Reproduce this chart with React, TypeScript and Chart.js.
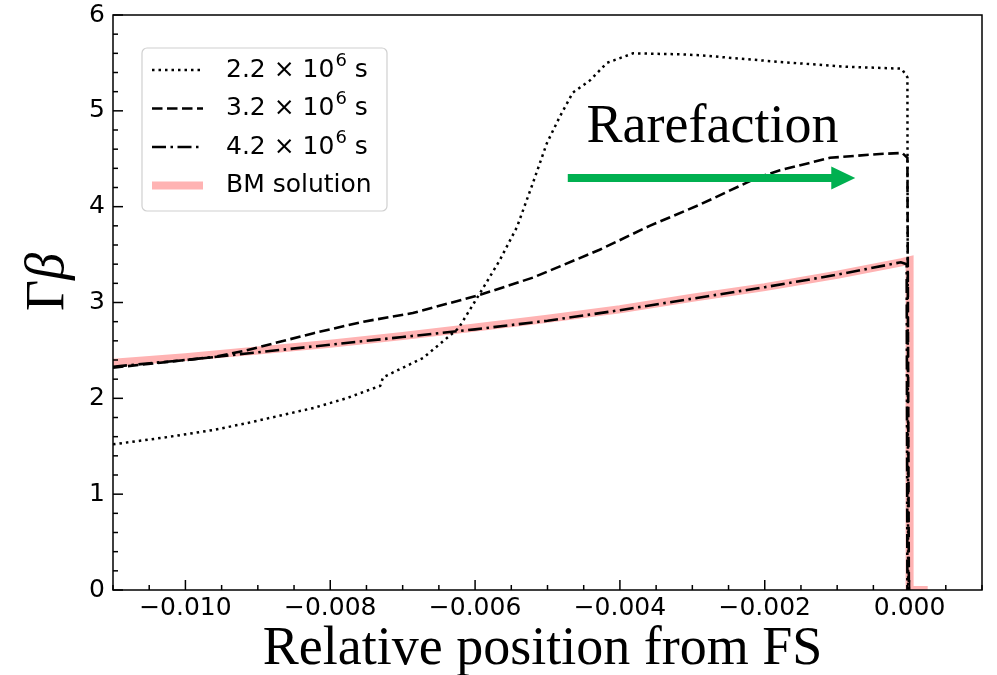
import React, { useEffect, useRef } from "react";
import { Chart, registerables } from "chart.js";
Chart.register(...registerables);

// ---------- data ----------
const X_MIN = -0.011;
const X_MAX = 0.001;
const Y_MIN = 0;
const Y_MAX = 6;
const X_TICKS = [-0.01, -0.008, -0.006, -0.004, -0.002, 0.0];
const X_TICK_LABELS = ["\u22120.010", "\u22120.008", "\u22120.006", "\u22120.004", "\u22120.002", "0.000"];
const Y_TICKS = [0, 1, 2, 3, 4, 5, 6];
const Y_TICK_LABELS = ["0", "1", "2", "3", "4", "5", "6"];
const X_MINOR_STEP = 0.0005;
const Y_MINOR_STEP = 0.2;

const X_T22 = [-0.011, -0.0103, -0.00961, -0.00916, -0.00869, -0.00823, -0.00778, -0.00731, -0.00727, -0.00686, -0.00672, -0.00623, -0.00593, -0.00566, -0.00542, -0.0052, -0.00501, -0.00483, -0.00465, -0.00441, -0.00418, -0.00382, -0.00317, -0.0029, -0.00179, -0.00087, -0.00011, -0.00003, -0.00002];
const Y_T22 = [1.52, 1.59, 1.67, 1.74, 1.82, 1.9, 2.0, 2.13, 2.22, 2.37, 2.42, 2.73, 3.1, 3.44, 3.79, 4.25, 4.66, 4.94, 5.19, 5.32, 5.5, 5.6, 5.59, 5.58, 5.51, 5.46, 5.44, 5.35, 0];

const X_T32 = [-0.011, -0.00961, -0.00916, -0.00823, -0.00754, -0.00686, -0.00593, -0.0052, -0.00428, -0.00359, -0.0029, -0.00211, -0.00179, -0.0011, -0.00041, -0.0001, -0.00003, -0.00001];
const Y_T32 = [2.32, 2.43, 2.5, 2.68, 2.8, 2.89, 3.08, 3.26, 3.55, 3.8, 4.02, 4.3, 4.38, 4.51, 4.55, 4.56, 4.51, 0];

const X_T42 = [-0.011, -0.01, -0.009, -0.008, -0.007, -0.006, -0.005, -0.004, -0.003, -0.002, -0.001, -0.00012, -0.00004, -0.00003];
const Y_T42 = [2.33, 2.4, 2.48, 2.56, 2.64, 2.72, 2.81, 2.92, 3.04, 3.16, 3.29, 3.42, 3.4, 0];

const X_BM = [-0.011, -0.01, -0.009, -0.008, -0.007, -0.006, -0.005, -0.004, -0.003, -0.002, -0.001, -0.00011, 0.0, 0.0, 0.00025];
const Y_BM = [2.37, 2.43, 2.5, 2.57, 2.65, 2.74, 2.83, 2.93, 3.05, 3.16, 3.29, 3.42, 3.44, 0, 0];

const LEGEND_BASE = ["2.2 \u00d7 10", "3.2 \u00d7 10", "4.2 \u00d7 10", "BM solution"];
const LEGEND_EXP = ["6", "6", "6", ""];
const LEGEND_UNIT = [" s", " s", " s", ""];

const ARROW_X = [-0.00472, -0.00075];
const ARROW_Y = 4.3;
const ANNOT_TEXT = "Rarefaction";
const ANNOT_X = -0.00446;
const ANNOT_Y = 4.675;

const X_TITLE = "Relative position from FS";
const Y_TITLE_A = "\u0393";
const Y_TITLE_B = "\u03b2";

// ---------- styles ----------
const STYLES = [
  { color: "#000000", width: 2.5, dash: [2.5, 4] },
  { color: "#000000", width: 2.6, dash: [10.5, 4.5] },
  { color: "#000000", width: 2.6, dash: [14, 4.5, 2.5, 4.5] },
  { color: "#ffb3b3", width: 8, dash: [] as number[] },
];

const pts = (xs: number[], ys: number[]) => xs.map((x, i) => ({ x, y: ys[i] }));

const overlay = {
  id: "overlay",
  afterDraw(chart: any) {
    const { ctx, chartArea: a, scales } = chart;
    const xs = scales.x;
    const ys = scales.y;
    ctx.save();
    // frame
    ctx.strokeStyle = "#000";
    ctx.lineWidth = 1.5;
    ctx.setLineDash([]);
    ctx.strokeRect(a.left, a.top, a.right - a.left, a.bottom - a.top);

    // ticks (inward, bottom & left)
    ctx.lineWidth = 1.5;
    const xi0 = Math.ceil(X_MIN / X_MINOR_STEP - 1e-6);
    const xi1 = Math.floor(X_MAX / X_MINOR_STEP + 1e-6);
    for (let i = xi0; i <= xi1; i++) {
      const v = i * X_MINOR_STEP;
      const px = xs.getPixelForValue(v);
      const major = Math.abs(Math.round(v / 0.002) * 0.002 - v) < 1e-9;
      const len = major ? 10 : 5;
      ctx.beginPath();
      ctx.moveTo(px, a.bottom);
      ctx.lineTo(px, a.bottom - len);
      ctx.stroke();
    }
    const yi1 = Math.round(Y_MAX / Y_MINOR_STEP);
    for (let i = 0; i <= yi1; i++) {
      const v = i * Y_MINOR_STEP;
      const py = ys.getPixelForValue(v);
      const major = i % 5 === 0;
      const len = major ? 10 : 5;
      ctx.beginPath();
      ctx.moveTo(a.left, py);
      ctx.lineTo(a.left + len, py);
      ctx.stroke();
    }

    // arrow
    const ax0 = xs.getPixelForValue(ARROW_X[0]);
    const ax1 = xs.getPixelForValue(ARROW_X[1]);
    const ay = ys.getPixelForValue(ARROW_Y);
    ctx.fillStyle = "#00b050";
    const headL = 24;
    const headH = 11.5;
    const shaft = 4;
    ctx.beginPath();
    ctx.moveTo(ax0, ay - shaft);
    ctx.lineTo(ax1 - headL, ay - shaft);
    ctx.lineTo(ax1 - headL, ay - headH);
    ctx.lineTo(ax1, ay);
    ctx.lineTo(ax1 - headL, ay + headH);
    ctx.lineTo(ax1 - headL, ay + shaft);
    ctx.lineTo(ax0, ay + shaft);
    ctx.closePath();
    ctx.fill();

    // annotation text
    ctx.fillStyle = "#000";
    ctx.font = "54px 'Liberation Serif'";
    ctx.textAlign = "left";
    ctx.textBaseline = "alphabetic";
    ctx.fillText(ANNOT_TEXT, xs.getPixelForValue(ANNOT_X), ys.getPixelForValue(ANNOT_Y));

    // legend
    const lx = a.left + 29;
    const ly = a.top + 33;
    ctx.beginPath();
    ctx.roundRect(lx, ly, 245, 163, 5);
    ctx.fillStyle = "rgba(255,255,255,0.8)";
    ctx.fill();
    ctx.strokeStyle = "#d0d0d0";
    ctx.lineWidth = 1.2;
    ctx.stroke();
    const rowY = [22, 60.5, 99, 137.5];
    for (let i = 0; i < 4; i++) {
      const st = STYLES[i];
      const cy = ly + rowY[i];
      ctx.beginPath();
      ctx.strokeStyle = st.color;
      ctx.lineWidth = st.width;
      ctx.setLineDash(st.dash);
      ctx.moveTo(lx + 10, cy);
      ctx.lineTo(lx + 61, cy);
      ctx.stroke();
      ctx.setLineDash([]);
      ctx.fillStyle = "#000";
      ctx.textBaseline = "middle";
      ctx.font = "25px 'DejaVu Sans'";
      let tx = lx + 84;
      ctx.fillText(LEGEND_BASE[i], tx, cy);
      tx += ctx.measureText(LEGEND_BASE[i]).width;
      if (LEGEND_EXP[i]) {
        ctx.font = "18px 'DejaVu Sans'";
        ctx.fillText(LEGEND_EXP[i], tx + 1, cy - 9);
        tx += ctx.measureText(LEGEND_EXP[i]).width + 1;
        ctx.font = "25px 'DejaVu Sans'";
        ctx.fillText(LEGEND_UNIT[i], tx, cy);
      }
    }

    // axis titles
    ctx.fillStyle = "#000";
    ctx.textBaseline = "alphabetic";
    ctx.textAlign = "center";
    ctx.font = "54px 'Liberation Serif'";
    ctx.fillText(X_TITLE, (a.left + a.right) / 2 - 5, 664);

    ctx.save();
    ctx.translate(63, 282);
    ctx.rotate(-Math.PI / 2);
    ctx.textAlign = "left";
    ctx.font = "54px 'Liberation Serif'";
    const wA = ctx.measureText(Y_TITLE_A).width;
    ctx.font = "italic 54px 'Liberation Serif'";
    const wB = ctx.measureText(Y_TITLE_B).width;
    const start = -(wA + wB) / 2;
    ctx.font = "54px 'Liberation Serif'";
    ctx.fillText(Y_TITLE_A, start, 0);
    ctx.font = "italic 54px 'Liberation Serif'";
    ctx.fillText(Y_TITLE_B, start + wA, 0);
    ctx.restore();

    ctx.restore();
  },
};

export default function App() {
  const ref = useRef<HTMLCanvasElement | null>(null);
  useEffect(() => {
    document.body.style.margin = "0";
    const canvas = ref.current!;
    const series = [
      { label: "2.2e6 s", data: pts(X_T22, Y_T22) },
      { label: "3.2e6 s", data: pts(X_T32, Y_T32) },
      { label: "4.2e6 s", data: pts(X_T42, Y_T42) },
      { label: "BM solution", data: pts(X_BM, Y_BM) },
    ];
    const chart = new Chart(canvas, {
      type: "line",
      data: {
        datasets: series.map((s, i) => ({
          label: s.label,
          data: s.data,
          borderColor: STYLES[i].color,
          borderWidth: STYLES[i].width,
          borderDash: STYLES[i].dash,
          pointRadius: 0,
          fill: false,
          tension: 0,
          borderJoinStyle: "miter" as const,
        })),
      },
      options: {
        animation: false,
        responsive: false,
        devicePixelRatio: 1,
        parsing: true,
        layout: { padding: { left: 0, top: 15, right: 15, bottom: 0 } },
        plugins: { legend: { display: false }, tooltip: { enabled: false } },
        scales: {
          x: {
            type: "linear",
            min: X_MIN,
            max: X_MAX,
            grid: { display: false, drawTicks: false },
            border: { display: false },
            afterBuildTicks: (s: any) => {
              s.ticks = X_TICKS.map((v) => ({ value: v }));
            },
            afterFit: (s: any) => {
              s.height = 85;
            },
            ticks: {
              autoSkip: false,
              maxRotation: 0,
              padding: 3,
              color: "#000",
              font: { family: "'DejaVu Sans'", size: 25 },
              callback: (v: any) => {
                const i = X_TICKS.findIndex((t) => Math.abs(t - Number(v)) < 1e-9);
                return i >= 0 ? X_TICK_LABELS[i] : "";
              },
            },
          },
          y: {
            type: "linear",
            min: Y_MIN,
            max: Y_MAX,
            grid: { display: false, drawTicks: false },
            border: { display: false },
            afterBuildTicks: (s: any) => {
              s.ticks = Y_TICKS.map((v) => ({ value: v }));
            },
            afterFit: (s: any) => {
              s.width = 113;
            },
            ticks: {
              autoSkip: false,
              padding: 8,
              color: "#000",
              font: { family: "'DejaVu Sans'", size: 25, lineHeight: 0.5 },
              callback: (v: any) => {
                const i = Y_TICKS.indexOf(Number(v));
                return i >= 0 ? Y_TICK_LABELS[i] : "";
              },
            },
          },
        },
      },
      plugins: [overlay],
    });
    return () => chart.destroy();
  }, []);
  return (
    <div style={{ width: 997, height: 675, background: "#fff" }}>
      <canvas ref={ref} width={997} height={675} style={{ display: "block" }} />
    </div>
  );
}
